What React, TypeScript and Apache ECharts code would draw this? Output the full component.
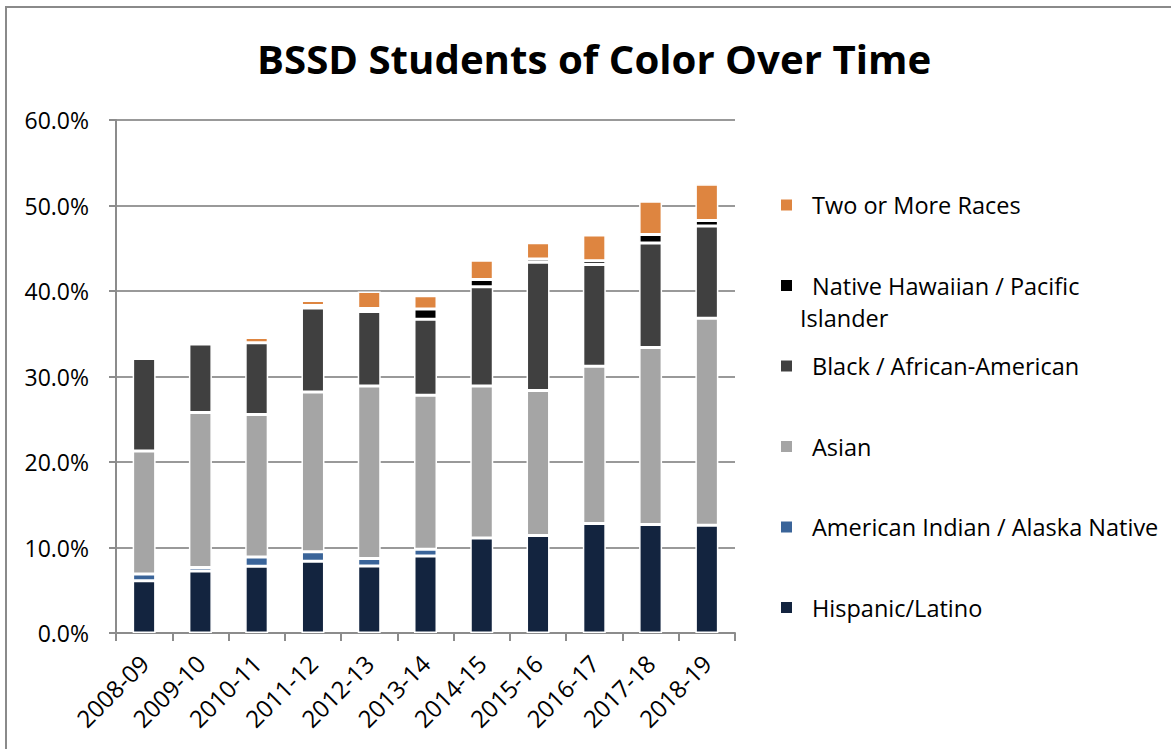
import React, { useEffect, useRef } from 'react';
import * as echarts from 'echarts';

const categories = ['2008-09', '2009-10', '2010-11', '2011-12', '2012-13', '2013-14', '2014-15', '2015-16', '2016-17', '2017-18', '2018-19'];
const hispanic = [6.1, 7.25, 7.8, 8.4, 7.85, 9.0, 11.1, 11.4, 12.8, 12.7, 12.6];
const amIndian = [0.8, 0.4, 1.1, 1.1, 0.85, 0.8, 0, 0, 0, 0, 0];
const asian = [14.4, 18.15, 16.65, 18.7, 20.2, 18.0, 17.8, 16.95, 18.4, 20.7, 24.2];
const black = [10.8, 8.0, 8.4, 9.8, 8.7, 8.9, 11.6, 15.0, 11.9, 12.2, 10.8];
const nhpi = [0, 0, 0, 0.3, 0.35, 1.2, 0.85, 0.4, 0.45, 1.0, 0.65];
const twoOrMore = [0, 0, 0.6, 0.6, 2.0, 1.55, 2.25, 1.9, 3.0, 3.9, 4.25];
const yTicks = [0, 10, 20, 30, 40, 50, 60];

const seriesDefs = [
  { name: 'Hispanic/Latino', data: hispanic, color: '#13243F' },
  { name: 'American Indian / Alaska Native', data: amIndian, color: '#3A6499' },
  { name: 'Asian', data: asian, color: '#A5A5A5' },
  { name: 'Black / African-American', data: black, color: '#404040' },
  { name: 'Native Hawaiian / Pacific Islander', data: nhpi, color: '#000000' },
  { name: 'Two or More Races', data: twoOrMore, color: '#DE8540' },
];

const FONT = '"Open Sans", sans-serif';

export default function App() {
  const ref = useRef<HTMLDivElement>(null);
  useEffect(() => {
    document.body.style.margin = '0';
    const chart = echarts.init(ref.current!, null, { renderer: 'svg' });
    chart.setOption({
      animation: false,
      backgroundColor: '#ffffff',
      title: {
        text: 'BSSD Students of Color Over Time',
        left: 252,
        top: 33,
        textStyle: { fontFamily: FONT, fontWeight: 'bold', fontSize: 40.2, color: '#000' },
      },
      grid: { left: 116, right: 436, top: 120, bottom: 116, containLabel: false },
      legend: {
        orient: 'vertical',
        left: 779,
        top: 192,
        padding: 0,
        itemWidth: 13,
        itemHeight: 13,
        itemGap: 54.5,
        icon: 'rect',
        data: seriesDefs.map((s) => s.name).reverse(),
        formatter: (n: string) => (n === 'Native Hawaiian / Pacific Islander' ? 'Native Hawaiian / Pacific' : n),
        textStyle: { fontFamily: FONT, fontSize: 23.5, color: '#000', lineHeight: 26, padding: [0, 0, 0, 14] },
      },
      graphic: [
        {
          type: 'rect',
          shape: { x: 6, y: 7, width: 1200, height: 800 },
          style: { fill: 'none', stroke: '#8a8a8a', lineWidth: 2 },
          silent: true,
        },
        {
          type: 'text',
          x: 800,
          y: 318,
          style: { text: 'Islander', fontFamily: FONT, fontSize: 23.5, fill: '#000', textVerticalAlign: 'middle' },
        },
      ],
      xAxis: {
        type: 'category',
        data: categories,
        axisLine: { lineStyle: { color: '#8c8c8c', width: 2 } },
        axisTick: { show: true, length: 8, lineStyle: { color: '#8c8c8c', width: 2 } },
        axisLabel: { rotate: 45, fontFamily: FONT, fontSize: 24, color: '#000', margin: 26, padding: [25, 0, 0, 0] },
      },
      yAxis: {
        type: 'value',
        min: yTicks[0],
        max: yTicks[yTicks.length - 1],
        interval: 10,
        axisLine: { show: true, lineStyle: { color: '#8c8c8c', width: 2 } },
        axisTick: { show: true, length: 7, lineStyle: { color: '#8c8c8c', width: 2 } },
        splitLine: { lineStyle: { color: '#999999', width: 2 } },
        axisLabel: {
          formatter: (v: number) => v.toFixed(1) + '%',
          fontFamily: FONT,
          fontSize: 23,
          color: '#000',
          margin: 27,
        },
      },
      series: seriesDefs.map((s) => ({
        name: s.name,
        type: 'bar',
        stack: 'total',
        data: s.data,
        barWidth: 23,
        itemStyle: { color: s.color, borderColor: '#ffffff', borderWidth: 1.5 },
      })),
    });
    return () => chart.dispose();
  }, []);
  return <div ref={ref} style={{ width: 1171, height: 749 }} />;
}
